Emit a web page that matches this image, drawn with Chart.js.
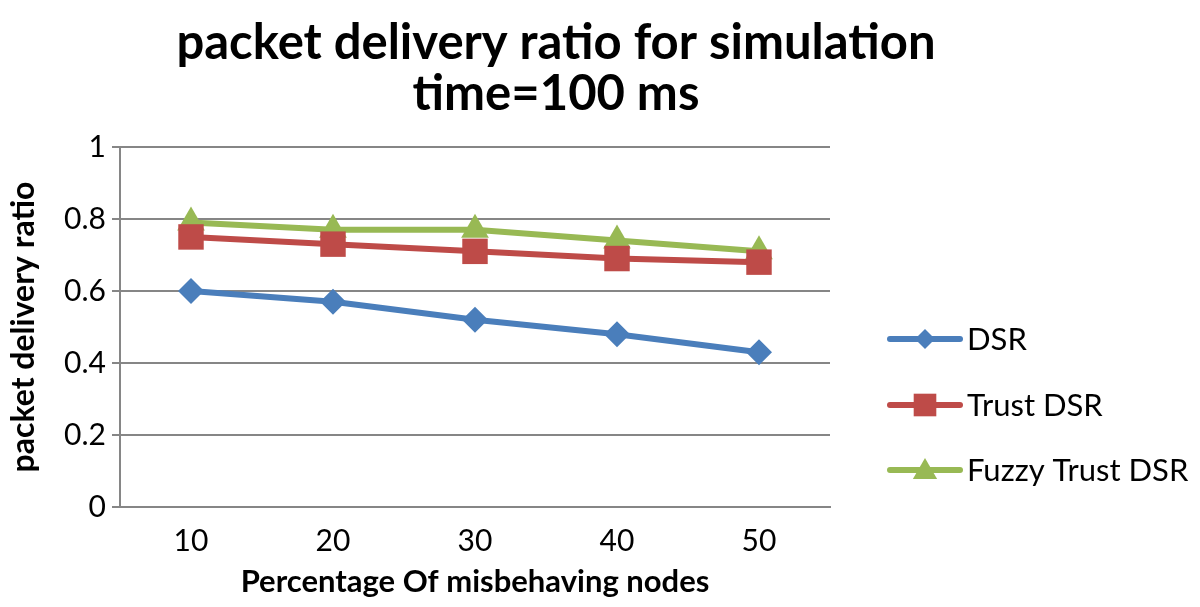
<!DOCTYPE html>
<html>
<head>
<meta charset="utf-8">
<script src="https://cdn.jsdelivr.net/npm/chart.js@4.4.0/dist/chart.umd.min.js"></script>
<style>
  html, body { margin: 0; padding: 0; background: #fff; }
  #wrap { width: 1200px; height: 607px; }
</style>
</head>
<body>
<div id="wrap"><canvas id="pdr"></canvas></div>
<script>
// data
const xLabels = ["10", "20", "30", "40", "50"];
const dsr = [0.6, 0.57, 0.52, 0.48, 0.43];
const trustDsr = [0.75, 0.73, 0.71, 0.69, 0.68];
const fuzzyTrustDsr = [0.79, 0.77, 0.77, 0.74, 0.71];

const FONT = "Lato, 'Open Sans', sans-serif";

// legend with line + marker, drawn to the right of the plot
const sideLegend = {
  id: "sideLegend",
  afterDraw(chart) {
    const ctx = chart.ctx;
    const rows = [339, 405, 470];
    const sizes = [10, 16, 14];
    ctx.save();
    chart.data.datasets.forEach((ds, i) => {
      const y = rows[i];
      ctx.strokeStyle = ds.borderColor;
      ctx.lineWidth = 6;
      ctx.lineCap = "round";
      ctx.beginPath();
      ctx.moveTo(890, y);
      ctx.lineTo(960, y);
      ctx.stroke();
      ctx.fillStyle = ds.backgroundColor;
      Chart.helpers.drawPoint(ctx, {
        pointStyle: ds.pointStyle,
        rotation: 0,
        radius: sizes[i],
        borderWidth: 0
      }, 925, y + (ds.pointStyle === "triangle" ? 2 : 0));
      ctx.fillStyle = "#000";
      ctx.font = "31px " + FONT;
      ctx.textBaseline = "middle";
      ctx.textAlign = "left";
      ctx.fillText(ds.label, 967, y + 1);
    });
    ctx.restore();
  }
};

new Chart(document.getElementById("pdr"), {
  type: "line",
  data: {
    labels: xLabels,
    datasets: [
      {
        label: "DSR",
        data: dsr,
        borderColor: "#4A7EBB",
        backgroundColor: "#4A7EBB",
        pointStyle: "rectRot",
        pointRadius: 13,
        borderWidth: 6,
        pointBorderWidth: 0
      },
      {
        label: "Trust DSR",
        data: trustDsr,
        borderColor: "#BE4B48",
        backgroundColor: "#BE4B48",
        pointStyle: "rect",
        pointRadius: 18,
        borderWidth: 6,
        pointBorderWidth: 0
      },
      {
        label: "Fuzzy Trust DSR",
        data: fuzzyTrustDsr,
        borderColor: "#98B954",
        backgroundColor: "#98B954",
        pointStyle: "triangle",
        pointRadius: 16,
        borderWidth: 6,
        pointBorderWidth: 0
      }
    ]
  },
  options: {
    responsive: true,
    maintainAspectRatio: false,
    animation: false,
    layout: { padding: { left: 0, right: 88, top: 0, bottom: 0 } },
    plugins: {
      legend: { display: false },
      tooltip: { enabled: false },
      title: {
        display: true,
        text: ["packet delivery ratio for simulation", "time=100 ms"],
        color: "#000",
        font: { family: FONT, size: 49, weight: "bold", lineHeight: 1.04 },
        padding: { top: 18, bottom: 27 }
      }
    },
    scales: {
      x: {
        offset: true,
        grid: { display: false, drawTicks: false },
        border: { color: "#868686", width: 2 },
        ticks: { color: "#000", padding: 16, font: { family: FONT, size: 30 } },
        title: {
          display: true,
          text: "Percentage Of misbehaving nodes",
          color: "#000",
          font: { family: FONT, size: 31, weight: "bold" },
          padding: { top: 2, bottom: 6 }
        },
        afterFit(scale) { scale.height = 100; }
      },
      y: {
        min: 0,
        max: 1,
        ticks: {
          stepSize: 0.2,
          color: "#000",
          padding: 6,
          font: { family: FONT, size: 30 },
          callback: (v) => Math.round(v * 10) / 10
        },
        grid: { color: "#868686", lineWidth: 2, tickLength: 8 },
        border: { color: "#868686", width: 2 },
        title: {
          display: true,
          text: "packet delivery ratio",
          color: "#000",
          font: { family: FONT, size: 32, weight: "bold" },
          padding: { top: 4, bottom: 2 }
        },
        afterFit(scale) { scale.width = 120; }
      },
      // empty space on the right that holds the legend
      legendSpace: {
        type: "linear",
        position: "right",
        display: true,
        grid: { display: false, drawTicks: false },
        border: { display: false },
        ticks: { display: false },
        afterFit(scale) { scale.width = 282; }
      }
    }
  },
  plugins: [sideLegend]
});
</script>
</body>
</html>
